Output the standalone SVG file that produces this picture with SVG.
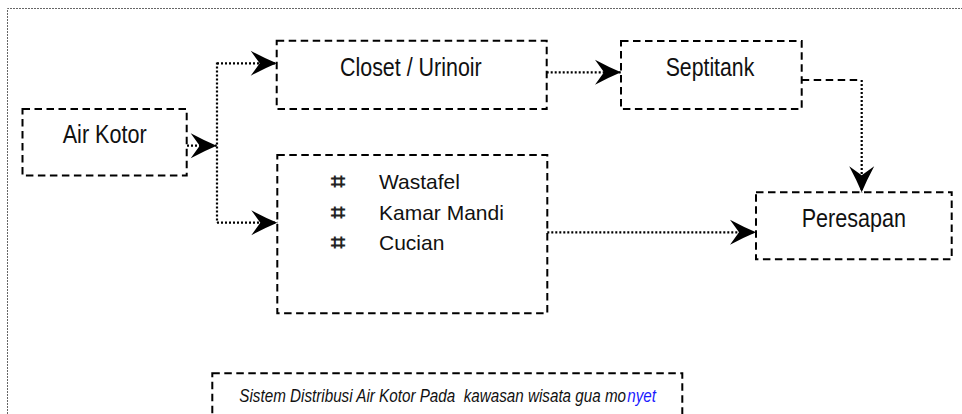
<svg xmlns="http://www.w3.org/2000/svg" width="962" height="414" viewBox="0 0 962 414">
  <style>
    .box { fill: none; stroke: #000; stroke-width: 2; stroke-dasharray: 7.5 4.5; }
    .frame { fill: none; stroke: #666; stroke-width: 1; stroke-dasharray: 2 1; }
    .dot { fill: none; stroke: #000; stroke-width: 2.2; stroke-dasharray: 2 2; }
    .dash { fill: none; stroke: #000; stroke-width: 2; stroke-dasharray: 7.5 4.5; }
    .lbl { font-family: 'Liberation Sans Narrow', 'Liberation Sans', Arial, sans-serif; font-size: 26px; fill: #111; }
    .item { font-family: 'Liberation Sans', Arial, sans-serif; font-size: 21px; fill: #111; }
    .bul { font-family: 'DejaVu Sans', sans-serif; font-size: 25px; font-weight: bold; fill: #222; }
    .cap { font-family: 'Liberation Sans', Arial, sans-serif; font-size: 19px; font-style: italic; fill: #111; }
  </style>
  <defs>
    <marker id="arrow" markerUnits="userSpaceOnUse" markerWidth="26" markerHeight="26" viewBox="0 0 26 26" refX="26" refY="13" orient="auto" overflow="visible">
      <path d="M0,0.5 Q14,8 26,13 Q14,18 0,25.5 L9,13 Z" fill="#000"/>
    </marker>
  </defs>

  <!-- page frame -->
  <path class="frame" d="M7.5,414 V8.5 H962"/>

  <!-- connectors -->
  <g id="connectors">
    <path class="dot" d="M187,145.7 H216.7" marker-end="url(#arrow)"/>
    <path class="dot" d="M217,62.5 V222.7"/>
    <path class="dot" d="M217,63.3 H276.7" marker-end="url(#arrow)"/>
    <path class="dot" d="M217,222.7 H277.3" marker-end="url(#arrow)"/>
    <path class="dot" d="M546.7,72.3 H621" marker-end="url(#arrow)"/>
    <path class="dash" d="M801.7,80 H861.7"/>
    <path class="dot" d="M861.7,80 V192.3" marker-end="url(#arrow)"/>
    <path class="dot" d="M547.3,232.3 H756" marker-end="url(#arrow)"/>
  </g>

  <g id="air-kotor">
    <rect class="box" x="22.5" y="109" width="164.2" height="66.5"/>
    <text class="lbl" x="62.7" y="143.3" textLength="84" lengthAdjust="spacingAndGlyphs">Air Kotor</text>
  </g>

  <g id="closet-urinoir">
    <rect class="box" x="276.7" y="40.7" width="270" height="68.3"/>
    <text class="lbl" x="340" y="76" textLength="141.7" lengthAdjust="spacingAndGlyphs">Closet / Urinoir</text>
  </g>

  <g id="septitank">
    <rect class="box" x="621" y="41" width="180.7" height="68"/>
    <text class="lbl" x="665.7" y="75.7" textLength="88.6" lengthAdjust="spacingAndGlyphs">Septitank</text>
  </g>

  <g id="peresapan">
    <rect class="box" x="756" y="192.3" width="195.7" height="67"/>
    <text class="lbl" x="801.7" y="227" textLength="104.3" lengthAdjust="spacingAndGlyphs">Peresapan</text>
  </g>

  <g id="fixtures">
    <rect class="box" x="277.3" y="155" width="270" height="158.3"/>
    <text class="bul" x="331" y="190">⌗</text>
    <text class="bul" x="331" y="220.5">⌗</text>
    <text class="bul" x="331" y="251">⌗</text>
    <text class="item" x="379" y="189.3">Wastafel</text>
    <text class="item" x="379" y="220.3">Kamar Mandi</text>
    <text class="item" x="379" y="250">Cucian</text>
  </g>

  <g id="caption">
    <rect class="box" x="212.3" y="373.3" width="470" height="60"/>
    <!-- caption set in a horizontally condensed frame -->
    <g transform="translate(239.3,401.7) scale(0.8015,1)">
      <text class="cap" x="0" y="0" xml:space="preserve">Sistem Distribusi Air Kotor Pada  kawasan wisata gua mo</text>
      <text class="cap" x="484" y="0" style="fill:#1a1aff">nyet</text>
    </g>
  </g>
</svg>
